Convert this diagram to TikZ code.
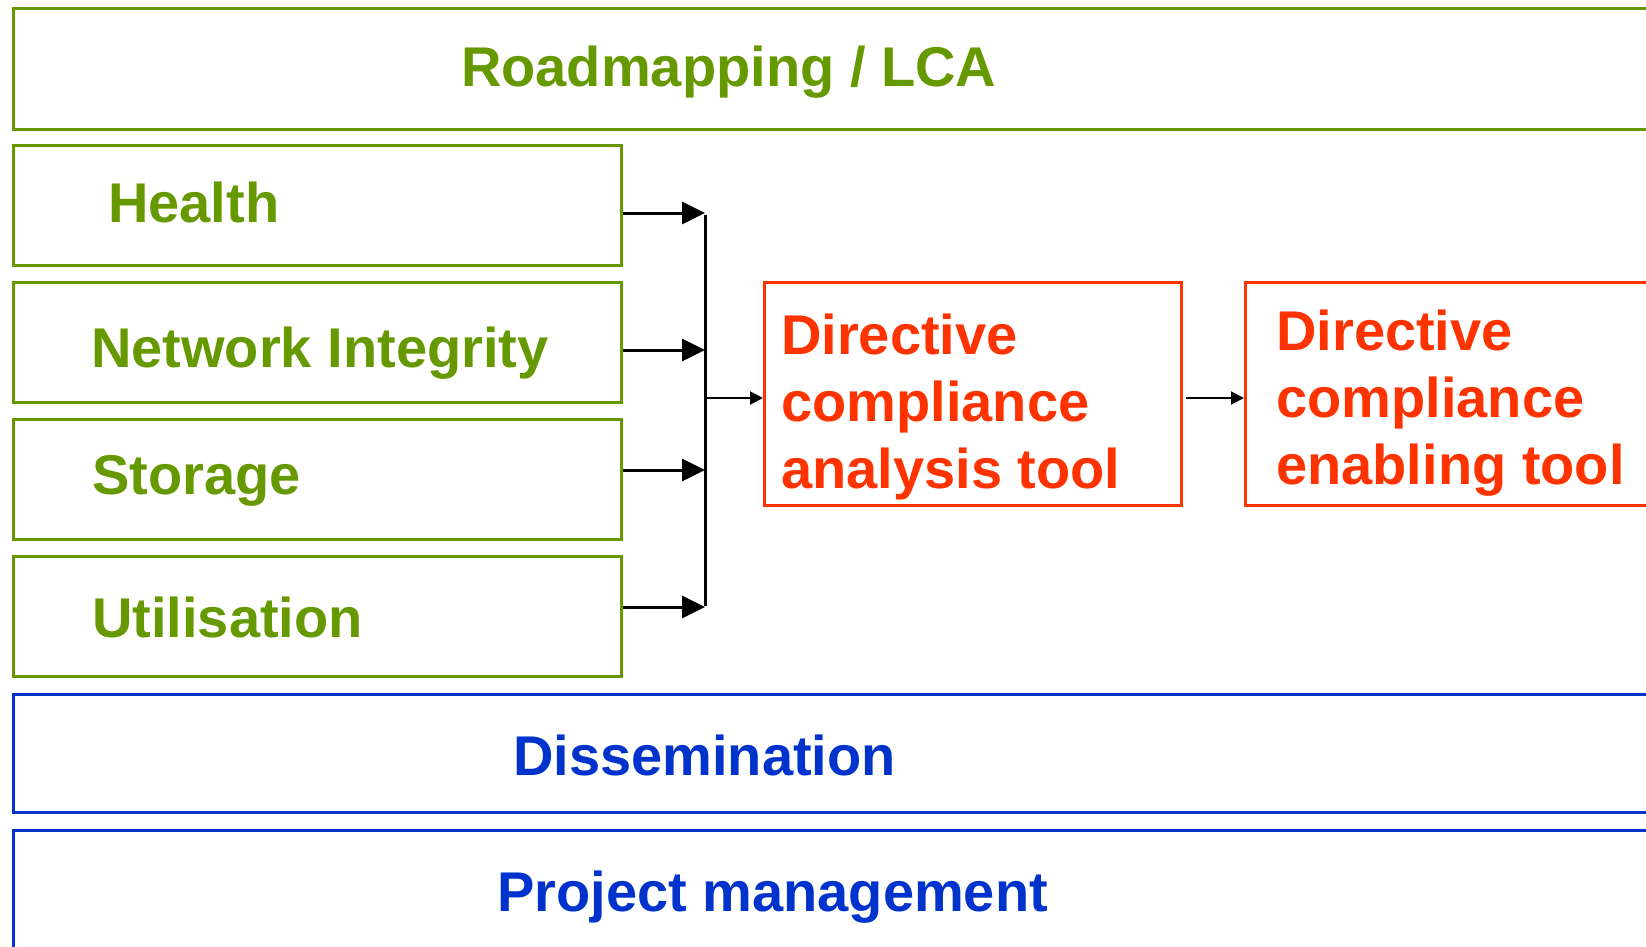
\documentclass[tikz,border=0pt]{standalone}
\usepackage{fontspec}
\setmainfont{Liberation Sans}
\usetikzlibrary{arrows.meta}
\definecolor{cgreen}{HTML}{669900}
\definecolor{cred}{HTML}{FF3300}
\definecolor{cblue}{HTML}{0033CC}
\tikzset{
  gbox/.style={draw=cgreen, line width=3pt, rectangle, inner sep=0pt},
  rbox/.style={draw=cred, line width=2.5pt, rectangle, inner sep=0pt},
  bbox/.style={draw=cblue, line width=3pt, rectangle, inner sep=0pt},
  lbl/.style={inner sep=0pt, anchor=base west, font=\fontsize{56}{67}\selectfont\bfseries},
  mlbl/.style={inner sep=0pt, anchor=north west, align=left, font=\fontsize{56}{67}\selectfont\bfseries, text=cred},
  bigarrow/.style={line width=3pt, -{Triangle[length=23pt,width=22pt]}},
  smallarrow/.style={line width=2pt, -{Triangle[length=13pt,width=13pt]}}
}
\begin{document}
\begin{tikzpicture}[x=1pt,y=-1pt]
\clip (0,0) rectangle (1646,946);
\fill[white] (0,0) rectangle (1646,946);
% boxes
\node[gbox, minimum width=1700pt, minimum height=121pt, anchor=north west] (top) at (12,7) {};
\node[gbox, minimum width=608pt, minimum height=120pt, anchor=north west] (health) at (12,144) {};
\node[gbox, minimum width=608pt, minimum height=120pt, anchor=north west] (network) at (12,281) {};
\node[gbox, minimum width=608pt, minimum height=120pt, anchor=north west] (storage) at (12,418) {};
\node[gbox, minimum width=608pt, minimum height=120pt, anchor=north west] (util) at (12,555) {};
\node[bbox, minimum width=1700pt, minimum height=118pt, anchor=north west] (diss) at (12,693) {};
\node[bbox, minimum width=1700pt, minimum height=160pt, anchor=north west] (pm) at (12,829) {};
\node[rbox, minimum width=417pt, minimum height=223pt, anchor=north west] (analysis) at (763,281) {};
\node[rbox, minimum width=460pt, minimum height=223pt, anchor=north west] (enabling) at (1244,281) {};
% labels
\node[lbl, text=cgreen] (ttop) at (461,86) {Roadmapping / LCA};
\node[lbl, text=cgreen] (thealth) at (108,222) {Health};
\node[lbl, text=cgreen] (tnetwork) at (91,367) {Network Integrity};
\node[lbl, text=cgreen] (tstorage) at (92,494) {Storage};
\node[lbl, text=cgreen] (tutil) at (92,637) {Utilisation};
\node[lbl, text=cblue] (tdiss) at (513,775) {Dissemination};
\node[lbl, text=cblue] (tpm) at (497,911) {Project management};
\node[mlbl] (tanalysis) at (781,314) {Directive\\compliance\\analysis tool};
\node[mlbl] (tenabling) at (1276,310) {Directive\\compliance\\enabling tool};
% connectors
\coordinate (b1) at (705,213);
\coordinate (b2) at (705,350);
\coordinate (b3) at (705,470);
\coordinate (b4) at (705,607);
\coordinate (m1) at (705,398);
\coordinate (m2) at (1186,398);
\draw[bigarrow] (b1 -| health.east) -- (b1);
\draw[bigarrow] (b2 -| network.east) -- (b2);
\draw[bigarrow] (b3 -| storage.east) -- (b3);
\draw[bigarrow] (b4 -| util.east) -- (b4);
\draw[line width=3pt] ([yshift=-1.5pt]b1) -- ([yshift=1.5pt]b4);
\draw[smallarrow] (m1) -- (m1 -| analysis.west);
\draw[smallarrow] (m2) -- (m2 -| enabling.west);
\end{tikzpicture}
\end{document}
